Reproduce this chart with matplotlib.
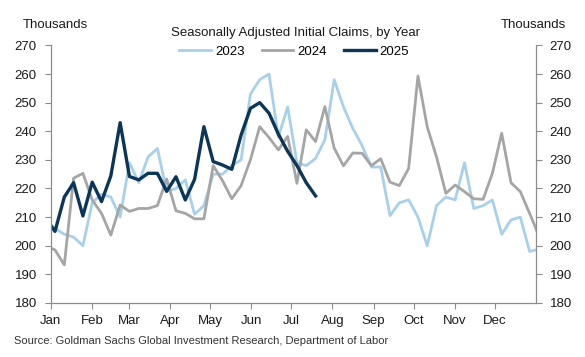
import numpy as np
import matplotlib.pyplot as plt

plt.rcParams['font.family'] = ['Liberation Sans', 'DejaVu Sans']

# weekly initial claims (thousands), week index -1..52 on a common year
y2023 = [209, 206, 204, 203, 200, 215, 218, 217, 210, 229, 222, 231, 234, 219, 220,
         223, 211, 214, 225, 225, 228, 230, 253, 258, 260, 238, 248.5, 229, 228,
         230.5, 237, 258, 248.5, 241, 235, 227.5, 227.5, 210.5, 215, 216, 210, 200,
         214, 217, 216, 229, 213, 214, 216, 204, 209, 210, 198, 198.8]
y2024 = [200, 198.5, 193.3, 223.6, 225.3, 216, 211.3, 203.7, 214.2, 212, 213, 213,
         214, 223.3, 212.2, 211.3, 209.4, 209.4, 228, 222.7, 216.4, 221, 230, 241.6,
         237.8, 233.5, 238.2, 221.8, 240.5, 236.4, 248.6, 234.1, 227.9, 232.4, 232.3,
         228, 230.4, 222.2, 221, 227, 259.3, 241.5, 231, 218.3, 221.2, 218.9, 216.4,
         216.2, 225.3, 239.3, 222, 218.9, 211.3, 203.5]
y2025 = [209.5, 205, 217, 222, 210.4, 222.2, 215.4, 224.4, 243, 224.2, 223, 225.3,
         225.3, 219, 224.1, 216, 223.2, 241.6, 229.4, 228.2, 226.7, 238.7, 248, 250,
         246.3, 239, 233, 228, 222, 217.4]

months = ["Jan", "Feb", "Mar", "Apr", "May", "Jun", "Jul", "Aug", "Sep", "Oct", "Nov", "Dec"]
month_start = [0, 31, 59, 90, 120, 151, 181, 212, 243, 273, 304, 334]
yticks = np.arange(180, 271, 10)


def week_days(vals):
    k = np.arange(len(vals)) - 1
    return 3.3 + 7 * k


fig = plt.figure(figsize=(5.85, 3.57), dpi=100)
ax = fig.add_axes([0.0865, 0.1515, 0.8295, 0.7213])

l1, = ax.plot(week_days(y2023), y2023, color="#a8d0ea", lw=2.0, label="2023")
l2, = ax.plot(week_days(y2024), y2024, color="#a5a5a5", lw=2.0, label="2024")
l3, = ax.plot(week_days(y2025), y2025, color="#0c3658", lw=2.4, label="2025")

ax.set_xlim(0, 365)
ax.set_ylim(180, 270)
ax.set_xticks(month_start)
ax.set_xticklabels(months)
ax.set_yticks(yticks)

for s in ["left", "right", "bottom"]:
    ax.spines[s].set_color("#8c8c8c")
    ax.spines[s].set_linewidth(0.9)
ax.spines["top"].set_visible(False)
ax.tick_params(axis="y", right=True, labelright=True, direction="out", length=4,
               color="#8c8c8c", labelsize=9.5, pad=6, labelcolor="#1a1a1a")
ax.tick_params(axis="x", direction="out", length=4, color="#8c8c8c",
               labelsize=9.5, pad=5, labelcolor="#1a1a1a")

fig.text(0.095, 0.93, "Thousands", ha="center", va="center", fontsize=9.5, color="#1a1a1a")
fig.text(0.912, 0.93, "Thousands", ha="center", va="center", fontsize=9.5, color="#1a1a1a")
fig.text(0.505, 0.907, "Seasonally Adjusted Initial Claims, by Year", ha="center",
         va="center", fontsize=9.5, color="#1a1a1a")
fig.legend(handles=[l1, l2, l3], loc="center", bbox_to_anchor=(0.503, 0.855), ncol=3,
           frameon=False, fontsize=9.5, handlelength=2.4, handletextpad=0.3,
           columnspacing=1.3, borderpad=0)
fig.text(0.024, 0.045, "Source: Goldman Sachs Global Investment Research, Department of Labor",
         ha="left", va="center", fontsize=8, color="#333333")

fig.savefig("out.png", dpi=100)
